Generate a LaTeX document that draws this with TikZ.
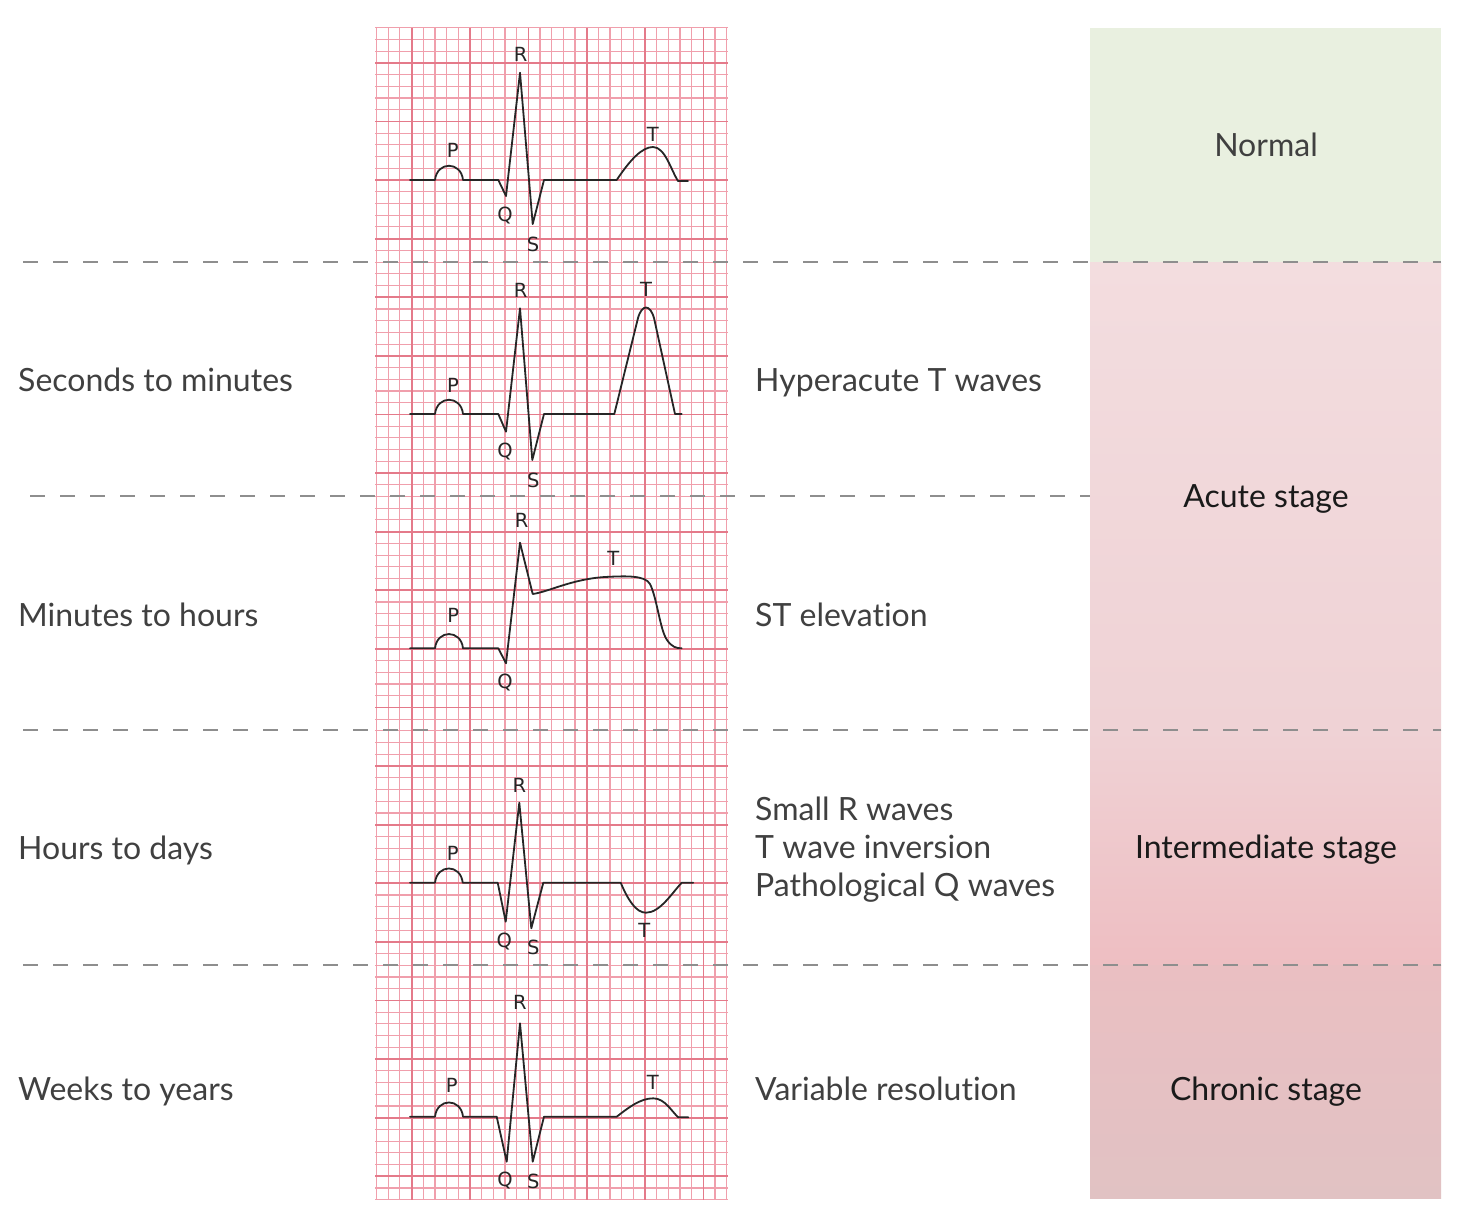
\documentclass[tikz,border=0pt]{standalone}
\usepackage{fontspec}
\setmainfont{Lato}[Ligatures={NoCommon,NoRequired,NoContextual}]
\newfontfamily\lblfont{DejaVu Sans}
\definecolor{gridminor}{HTML}{F09FAC}
\definecolor{gridmajor}{HTML}{E47A8A}
\definecolor{dashgray}{HTML}{8E8E8E}
\definecolor{normalgreen}{HTML}{E9F0E0}
\definecolor{pinkA}{HTML}{F3DDDF}
\definecolor{pinkB}{HTML}{EFD2D5}
\definecolor{pinkC}{HTML}{EEBEC2}
\definecolor{pinkD}{HTML}{E1C2C3}
\definecolor{txtgray}{HTML}{404040}
\definecolor{txtdark}{HTML}{1A1A1A}
\begin{document}
\begin{tikzpicture}[x=1pt,y=-1pt,
  minorline/.style={draw=gridminor,line width=1.1pt},
  majorline/.style={draw=gridmajor,line width=1.8pt},
  sepline/.style={draw=dashgray,line width=2.2pt,dash pattern=on 15pt off 15pt},
  ecg/.style={draw=black!85,line width=1.8pt,line join=round,line cap=round},
  wlbl/.style={font=\lblfont\fontsize{19.5}{19.5}\selectfont,text=black!85,inner sep=0pt},
  timelbl/.style={font=\fontsize{32}{38}\selectfont,text=txtgray,anchor=base west,inner sep=0pt},
  desclbl/.style={font=\fontsize{32}{38}\selectfont,text=txtgray,anchor=base west,inner sep=0pt},
  stagelbl/.style={font=\fontsize{32}{38}\selectfont,text=txtdark,anchor=base,inner sep=0pt},
]
\useasboundingbox (0,0) rectangle (1466,1204);
\fill[white] (0,0) rectangle (1466,1204);

% right stage panel
\fill[normalgreen] (1090,28) rectangle (1441,262);
\shade[top color=pinkA,bottom color=pinkB] (1090,262) rectangle (1441,730);
\shade[top color=pinkB,bottom color=pinkC] (1090,730) rectangle (1441,965);
\shade[top color=pinkC!70!pinkD,bottom color=pinkD] (1090,965) rectangle (1441,1198);

% ECG paper grid
\foreach \i in {0,...,30}{
  \pgfmathsetmacro\xx{376.6+\i*11.67}
  \draw[minorline] (\xx,28) -- (\xx,1200);
}
\foreach \k in {0,...,100}{
  \pgfmathsetmacro\yy{27.7+\k*11.72}
  \draw[minorline] (375,\yy) -- (728,\yy);
}
\foreach \i in {0,...,5}{
  \pgfmathsetmacro\xx{411.7+\i*58.35}
  \draw[majorline] (\xx,28) -- (\xx,1200);
}
\foreach \k in {0,...,19}{
  \pgfmathsetmacro\yy{62.86+\k*58.6}
  \draw[majorline] (375,\yy) -- (728,\yy);
}

% separators
\coordinate (s1a) at (23,262);  \coordinate (s1b) at (1441,262);
\coordinate (s2a) at (30,496);  \coordinate (s2b) at (1090,496);
\coordinate (s3a) at (23,730);  \coordinate (s3b) at (1441,730);
\coordinate (s4a) at (23,965);  \coordinate (s4b) at (1441,965);
\draw[sepline] (s1a) -- (s1b);
\draw[sepline] (s2a) -- (s2b);
\draw[sepline] (s3a) -- (s3b);
\draw[sepline] (s4a) -- (s4b);

% ECG 1 : normal
\draw[ecg] (410,180) -- (435,180) .. controls (437,161) and (461,161) .. (463,180)
  -- (498.3,180) -- (506,196)
  -- (520,72.7) -- (532.7,224) -- (544,180) -- (616.7,180)
  .. controls (630,160) and (642,147) .. (653,147)
  .. controls (665,147) and (671,170) .. (678,181) -- (688,181);
\node[wlbl] (p1) at (452.7,150) {P};
\node[wlbl] (q1) at (505,216) {Q};
\node[wlbl] (r1) at (520.7,54) {R};
\node[wlbl] (s1) at (533,244) {S};
\node[wlbl] (t1) at (652.7,134) {T};

% ECG 2 : hyperacute T
\draw[ecg] (410,414) -- (435,414) .. controls (437,395) and (461,395) .. (463,414)
  -- (498.3,414) -- (506,431.7)
  -- (520,308.3) -- (532.3,460) -- (544,414) -- (614.3,414) -- (638,318)
  .. controls (642,304) and (650,304) .. (654,318) -- (675,414) -- (681.7,414);
\node[wlbl] (p2) at (453,385) {P};
\node[wlbl] (q2) at (505,452) {Q};
\node[wlbl] (r2) at (520.7,290) {R};
\node[wlbl] (s2) at (533.3,480) {S};
\node[wlbl] (t2) at (646,289) {T};

% ECG 3 : ST elevation
\draw[ecg] (410,648.3) -- (435,648.3) .. controls (437,629.3) and (461,629.3) .. (463,648.3)
  -- (498.3,648.3) -- (506,663.3)
  -- (520,542.7) -- (532.7,594)
  .. controls (548,592) and (572,579) .. (605,577)
  .. controls (625,576) and (645,575) .. (650,584)
  .. controls (657,598) and (660,630) .. (667,640)
  .. controls (672,647) and (676,648.3) .. (681.7,648.3);
\node[wlbl] (p3) at (453.3,615) {P};
\node[wlbl] (q3) at (505,683) {Q};
\node[wlbl] (r3) at (521.7,520) {R};
\node[wlbl] (t3) at (613.3,558) {T};

% ECG 4 : T inversion
\draw[ecg] (410,882.7) -- (435,882.7) .. controls (437,863.7) and (460.7,863.7) .. (462.7,882.7)
  -- (497.7,882.7) -- (505.7,921.7)
  -- (519.3,802.7) -- (531.3,928.3) -- (543.3,882.7) -- (620.7,882.7)
  .. controls (628,900) and (636,912.7) .. (646,912.7)
  .. controls (660,912.7) and (672,893) .. (681.7,882.7) -- (693.3,882.7);
\node[wlbl] (p4) at (452.7,853) {P};
\node[wlbl] (q4) at (504.3,942) {Q};
\node[wlbl] (r4) at (519.3,785) {R};
\node[wlbl] (s4) at (533.3,947) {S};
\node[wlbl] (t4) at (644.3,930) {T};

% ECG 5 : chronic
\draw[ecg] (410,1116.7) -- (435,1116.7) .. controls (437,1097.7) and (461,1097.7) .. (463,1116.7)
  -- (496.7,1116.7) -- (506.7,1161.7)
  -- (520,1023.3) -- (532.7,1161.7) -- (544,1116.7) -- (616.7,1116.7)
  .. controls (628,1108) and (640,1098.3) .. (653.3,1098.3)
  .. controls (665,1098.3) and (672,1112) .. (678.3,1117.3) -- (688.3,1117.3);
\node[wlbl] (p5) at (451.7,1085) {P};
\node[wlbl] (q5) at (505,1181) {Q};
\node[wlbl] (r5) at (520,1002) {R};
\node[wlbl] (s5) at (533.3,1181) {S};
\node[wlbl] (t5) at (652.7,1082) {T};

% left time labels
\node[timelbl] (time1) at (18,391) {Seconds to minutes};
\node[timelbl] (time2) at (18,626) {Minutes to hours};
\node[timelbl] (time3) at (18,859) {Hours to days};
\node[timelbl] (time4) at (18,1100) {Weeks to years};

% descriptions
\node[desclbl] (desc1) at (755,391) {Hyperacute T waves};
\node[desclbl] (desc2) at (755,626) {ST elevation};
\node[desclbl] (desc3a) at (755,820) {Small R waves};
\node[desclbl] (desc3b) at (755,858) {T wave inversion};
\node[desclbl] (desc3c) at (755,896) {Pathological Q waves};
\node[desclbl] (desc4) at (755,1100) {Variable resolution};

% stages
\node[stagelbl,text=txtgray] (stnormal) at (1266,157) {Normal};
\node[stagelbl] (stacute) at (1266,507) {Acute stage};
\node[stagelbl] (stinter) at (1266,858) {Intermediate stage};
\node[stagelbl] (stchronic) at (1266,1100) {Chronic stage};
\end{tikzpicture}
\end{document}
